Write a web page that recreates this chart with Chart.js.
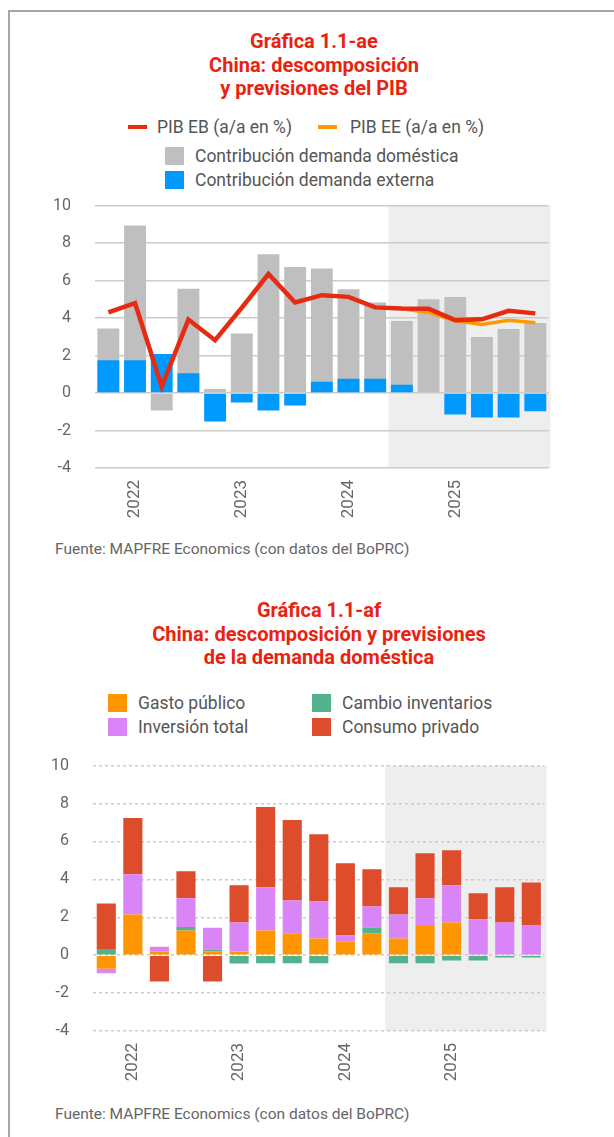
<!DOCTYPE html>
<html>
<head>
<meta charset="utf-8">
<script src="https://cdn.jsdelivr.net/npm/chart.js@4.4.1/dist/chart.umd.min.js"></script>
<style>
  body { margin: 0; width: 614px; height: 1137px; background: #fff; overflow: hidden; font-family: Roboto, sans-serif; position: relative; }
  .frame { position: absolute; left: 8px; top: 10px; width: 700px; height: 1200px; border-left: 2px solid #a6a6a6; border-top: 2px solid #a6a6a6; }
  .title { position: absolute; left: 0; text-align: center; color: #e8230f; font-weight: 700; font-size: 20px; line-height: 23.5px; }
  .leg { position: absolute; color: #555; font-size: 17.5px; line-height: 20px; white-space: nowrap; }
  .box { position: absolute; width: 19px; height: 18px; }
  .mark { position: absolute; width: 19px; height: 4px; }
  .src { position: absolute; left: 55px; color: #666; font-size: 15.5px; }
  .wrap { position: absolute; }
</style>
</head>
<body>
<div class="frame"></div>

<div class="title" style="top:30px;width:628px;">Gráfica 1.1-ae<br>China: descomposición<br>y previsiones del PIB</div>

<div class="mark" style="left:128px;top:125px;background:#e52b12;"></div>
<div class="leg" style="left:157px;top:117px;">PIB EB (a/a en %)</div>
<div class="mark" style="left:318px;top:125px;background:#ff9900;"></div>
<div class="leg" style="left:350px;top:117px;">PIB EE (a/a en %)</div>
<div class="box" style="left:165px;top:147px;background:#bfbfbf;"></div>
<div class="leg" style="left:195px;top:146px;">Contribución demanda doméstica</div>
<div class="box" style="left:165px;top:171px;background:#0099ff;"></div>
<div class="leg" style="left:195px;top:170px;">Contribución demanda externa</div>

<div class="wrap" style="left:50px;top:172px;width:510px;height:346px;"><canvas id="pibChart"></canvas></div>
<div class="src" style="top:540px;">Fuente: MAPFRE Economics (con datos del BoPRC)</div>

<div class="title" style="top:599px;width:638px;">Gráfica 1.1-af<br>China: descomposición y previsiones<br>de la demanda doméstica</div>

<div class="box" style="left:108px;top:694px;background:#ff9500;"></div>
<div class="leg" style="left:138px;top:693px;">Gasto público</div>
<div class="box" style="left:312px;top:694px;background:#52b28b;"></div>
<div class="leg" style="left:342px;top:693px;">Cambio inventarios</div>
<div class="box" style="left:108px;top:718px;background:#d985f7;"></div>
<div class="leg" style="left:138px;top:717px;">Inversión total</div>
<div class="box" style="left:312px;top:718px;background:#dd4d2b;"></div>
<div class="leg" style="left:342px;top:717px;">Consumo privado</div>

<div class="wrap" style="left:48px;top:732px;width:508px;height:349px;"><canvas id="demChart"></canvas></div>
<div class="src" style="top:1105px;">Fuente: MAPFRE Economics (con datos del BoPRC)</div>

<script>
// quarters 2022-2026, year label on the second quarter
const quarters = ['', '2022', '', '', '', '2023', '', '', '', '2024', '', '', '', '2025', '', '', ''];

// Gráfica 1.1-ae
const demandaDomestica = [3.44, 8.94, -0.93, 5.56, 0.21, 3.17, 7.41, 6.72, 6.65, 5.54, 4.83, 3.84, 5.0, 5.12, 2.99, 3.42, 3.73];
const demandaExterna = [1.75, 1.75, 2.08, 1.06, -1.52, -0.51, -0.93, -0.67, 0.6, 0.76, 0.76, 0.44, 0, -1.15, -1.31, -1.31, -0.97];
const pibEB = [4.30, 4.80, 0.35, 3.92, 2.82, 4.55, 6.35, 4.83, 5.22, 5.13, 4.57, 4.51, 4.50, 3.89, 3.93, 4.39, 4.25];
const pibEE = [null, null, null, null, null, null, null, null, null, null, null, 4.50, 4.30, 3.86, 3.66, 3.88, 3.75];

// Gráfica 1.1-af
const gastoPublico = [-0.71, 2.15, 0.18, 1.30, 0.19, 0.19, 1.30, 1.16, 0.88, 0.74, 1.16, 0.88, 1.59, 1.73, 0, 0, 0];
const cambioInventarios = [0.32, 0, 0, 0.18, 0.10, -0.44, -0.42, -0.42, -0.42, 0, 0.30, -0.42, -0.42, -0.28, -0.28, -0.12, -0.12];
const inversionTotal = [-0.24, 2.12, 0.27, 1.52, 1.16, 1.54, 2.28, 1.73, 1.96, 0.30, 1.11, 1.27, 1.41, 1.96, 1.89, 1.73, 1.57];
const consumoPrivado = [2.41, 2.96, -1.39, 1.43, -1.39, 1.96, 4.23, 4.24, 3.54, 3.81, 1.96, 1.43, 2.38, 1.85, 1.37, 1.85, 2.27];

const forecastStart = 11; // first forecast quarter

Chart.defaults.font.family = 'Roboto, sans-serif';
Chart.defaults.animation = false;

// grey band behind the forecast quarters
const shadePlugin = {
    id: 'shade',
    beforeDraw(chart) {
        const { ctx, chartArea, scales } = chart;
        const x0 = scales.x.getPixelForValue(forecastStart - 0.5);
        ctx.save();
        ctx.fillStyle = '#eeeeee';
        ctx.fillRect(x0, chartArea.top, chartArea.right + 2 - x0, chartArea.bottom - chartArea.top);
        ctx.restore();
    }
};

function makeScales(stacked, dashed) {
    return {
        x: {
            stacked: stacked,
            grid: { display: false },
            border: { display: false },
            ticks: {
                autoSkip: false, minRotation: 90, maxRotation: 90, padding: 4,
                color: '#666', font: { size: 17 }
            },
            afterFit(scale) { scale.height = 50; }
        },
        y: {
            stacked: stacked,
            min: -4, max: 10,
            border: { display: false, dash: dashed ? [3, 3] : [] },
            grid: { color: '#cccccc', lineWidth: 1.5, drawTicks: false },
            ticks: { stepSize: 2, padding: 24, color: '#666', font: { size: 16 } },
            afterFit(scale) { scale.width = 45; }
        }
    };
}

new Chart(document.getElementById('pibChart'), {
    type: 'bar',
    data: {
        labels: quarters,
        datasets: [
            {
                type: 'line', label: 'PIB EB (a/a en %)', data: pibEB, order: 0,
                borderColor: '#e52b12', borderWidth: 4.5, pointRadius: 0, tension: 0, fill: false
            },
            {
                type: 'line', label: 'PIB EE (a/a en %)', data: pibEE, order: 1,
                borderColor: '#ff9900', borderWidth: 3.5, pointRadius: 0, tension: 0, fill: false
            },
            {
                label: 'Contribución demanda externa', data: demandaExterna, order: 2, grouped: false,
                backgroundColor: '#0099ff', barPercentage: 0.82, categoryPercentage: 1
            },
            {
                label: 'Contribución demanda doméstica', data: demandaDomestica, order: 3, grouped: false,
                backgroundColor: '#bfbfbf', barPercentage: 0.82, categoryPercentage: 1
            }
        ]
    },
    options: {
        responsive: true,
        maintainAspectRatio: false,
        layout: { padding: { top: 10, right: 10, left: 0, bottom: 0 } },
        plugins: { legend: { display: false }, tooltip: { enabled: false } },
        scales: makeScales(false, false)
    },
    plugins: [shadePlugin]
});

new Chart(document.getElementById('demChart'), {
    type: 'bar',
    data: {
        labels: quarters,
        datasets: [
            { label: 'Gasto público', data: gastoPublico, backgroundColor: '#ff9500', barPercentage: 0.72, categoryPercentage: 1 },
            { label: 'Cambio inventarios', data: cambioInventarios, backgroundColor: '#52b28b', barPercentage: 0.72, categoryPercentage: 1 },
            { label: 'Inversión total', data: inversionTotal, backgroundColor: '#d985f7', barPercentage: 0.72, categoryPercentage: 1 },
            { label: 'Consumo privado', data: consumoPrivado, backgroundColor: '#dd4d2b', barPercentage: 0.72, categoryPercentage: 1 }
        ]
    },
    options: {
        responsive: true,
        maintainAspectRatio: false,
        layout: { padding: { top: 10, right: 10, left: 0, bottom: 0 } },
        plugins: { legend: { display: false }, tooltip: { enabled: false } },
        scales: (function() {
            const s = makeScales(true, true);
            s.y.border.dash = [3, 3];
            return s;
        })()
    },
    plugins: [shadePlugin]
});
</script>
</body>
</html>
